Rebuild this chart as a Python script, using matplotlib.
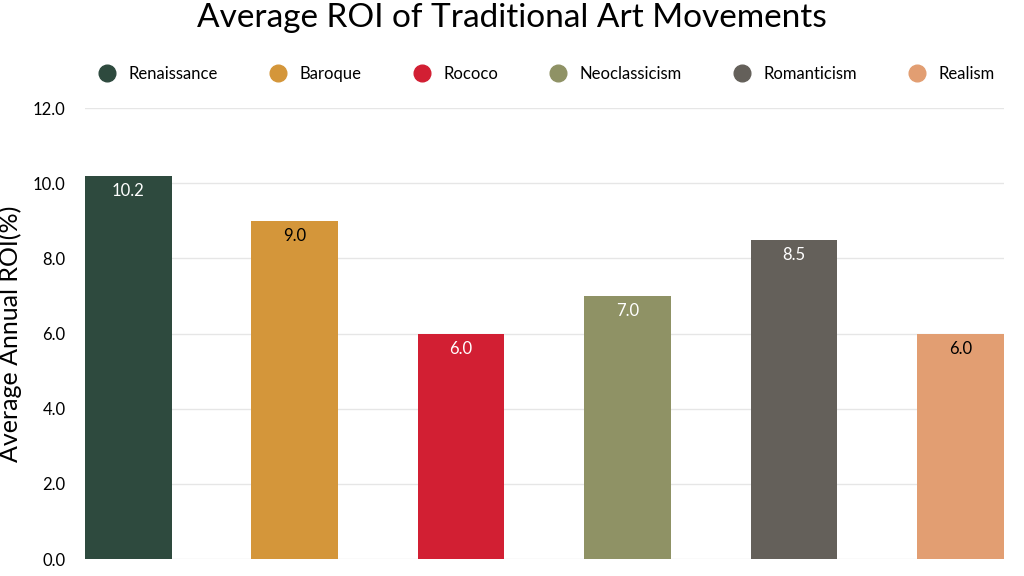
import matplotlib.pyplot as plt
from matplotlib.lines import Line2D

plt.rcParams['font.family'] = ['Lato', 'DejaVu Sans']

movements = ['Renaissance', 'Baroque', 'Rococo', 'Neoclassicism', 'Romanticism', 'Realism']
roi = [10.2, 9.0, 6.0, 7.0, 8.5, 6.0]
colors = ['#2e4a3e', '#d4963a', '#d21f33', '#8f9265', '#64605a', '#e29e72']
label_colors = ['white', 'black', 'white', 'white', 'white', 'black']
yticks = [0, 2, 4, 6, 8, 10, 12]

fig = plt.figure(figsize=(10.24, 5.76), dpi=100)
ax = fig.add_axes([0.083, 0.0295, 0.897, 0.783])

x = range(len(movements))
ax.bar(x, roi, width=0.52, color=colors, zorder=2)
for i, v in enumerate(roi):
    ax.text(i, v - 0.2, f'{v:.1f}', ha='center', va='top', fontsize=12,
            color=label_colors[i], zorder=3)

ax.set_xlim(-0.26, 5.26)
ax.set_ylim(0, 12)
ax.set_yticks(yticks)
ax.set_yticklabels([f'{t:.1f}' for t in yticks], fontsize=12)
ax.set_xticks([])
ax.tick_params(axis='y', length=0, pad=14)
ax.grid(axis='y', color='#e6e6e6', linewidth=1, zorder=0)
for s in ax.spines.values():
    s.set_visible(False)
ax.set_ylabel('Average Annual ROI(%)', fontsize=18, labelpad=8)

handles = [Line2D([], [], marker='o', linestyle='', markersize=12, color=c) for c in colors]
fig.legend(handles, movements, loc='center', bbox_to_anchor=(0.53, 0.872), ncol=6,
           frameon=False, fontsize=12, handletextpad=0.3, columnspacing=2.6)
fig.suptitle('Average ROI of Traditional Art Movements', fontsize=24, y=0.995)

fig.savefig('out.png', dpi=100)
